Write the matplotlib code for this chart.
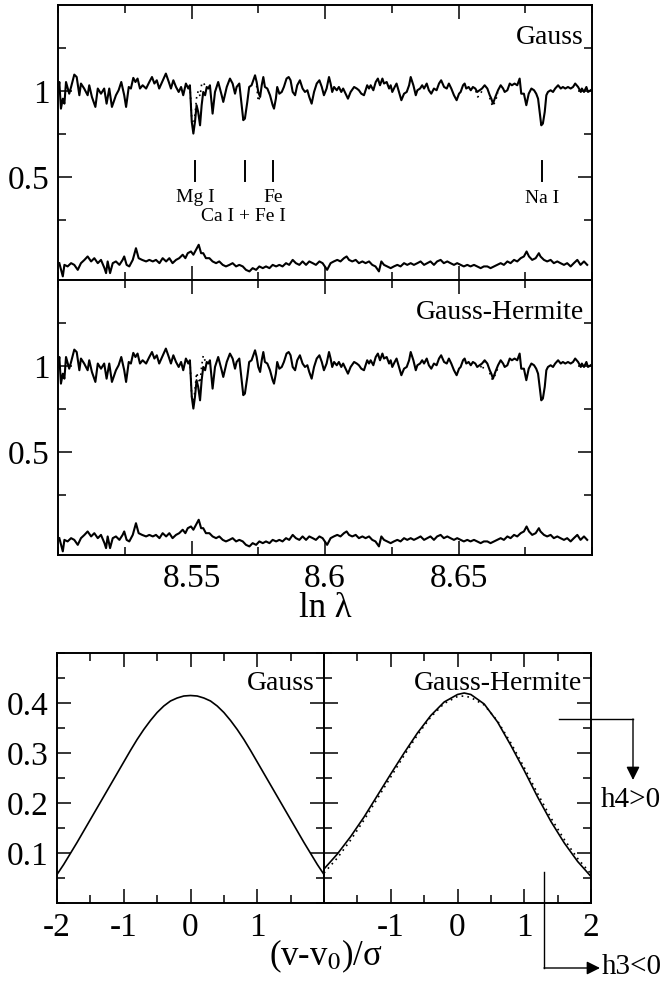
"""Spectrum fits (Gauss vs Gauss-Hermite LOSVD) and the recovered LOSVDs."""

import numpy as np
import matplotlib
matplotlib.use('Agg')
import matplotlib.pyplot as plt
from matplotlib.lines import Line2D
from matplotlib.ticker import MultipleLocator, FixedLocator

plt.rcParams['font.family'] = ['Liberation Serif', 'DejaVu Serif']
plt.rcParams['mathtext.fontset'] = 'stix'

W, H = 662, 986

# ===== Observed spectrum (ln lambda, normalised flux) =====
SPEC_LNL = [
    8.5000, 8.5005, 8.5011, 8.5018, 8.5024, 8.5030, 8.5042, 8.5049, 8.5061, 8.5070,
    8.5080, 8.5086, 8.5098, 8.5111, 8.5117, 8.5127, 8.5140, 8.5149, 8.5161, 8.5173,
    8.5182, 8.5192, 8.5202, 8.5217, 8.5227, 8.5237, 8.5248, 8.5255, 8.5265, 8.5273,
    8.5282, 8.5290, 8.5298, 8.5307, 8.5317, 8.5330, 8.5342, 8.5352, 8.5361, 8.5370,
    8.5379, 8.5390, 8.5404, 8.5415, 8.5423, 8.5432, 8.5442, 8.5452, 8.5461, 8.5469,
    8.5479, 8.5488, 8.5494, 8.5501, 8.5507, 8.5513, 8.5519, 8.5525, 8.5532, 8.5538,
    8.5544, 8.5551, 8.5557, 8.5563, 8.5569, 8.5579, 8.5588, 8.5600, 8.5613, 8.5619,
    8.5632, 8.5644, 8.5654, 8.5663, 8.5669, 8.5679, 8.5688, 8.5694, 8.5700, 8.5709,
    8.5716, 8.5725, 8.5738, 8.5744, 8.5750, 8.5757, 8.5763, 8.5769, 8.5775, 8.5784,
    8.5794, 8.5804, 8.5809, 8.5816, 8.5821, 8.5829, 8.5838, 8.5846, 8.5856, 8.5864,
    8.5871, 8.5879, 8.5888, 8.5896, 8.5906, 8.5916, 8.5925, 8.5934, 8.5941, 8.5950,
    8.5959, 8.5969, 8.5979, 8.5988, 8.5996, 8.6006, 8.6015, 8.6021, 8.6027, 8.6034,
    8.6044, 8.6052, 8.6061, 8.6068, 8.6077, 8.6086, 8.6096, 8.6109, 8.6119, 8.6127,
    8.6136, 8.6146, 8.6158, 8.6165, 8.6171, 8.6181, 8.6190, 8.6198, 8.6206, 8.6215,
    8.6221, 8.6231, 8.6240, 8.6246, 8.6252, 8.6261, 8.6268, 8.6277, 8.6286, 8.6296,
    8.6306, 8.6315, 8.6321, 8.6331, 8.6340, 8.6346, 8.6356, 8.6364, 8.6371, 8.6381,
    8.6389, 8.6398, 8.6408, 8.6418, 8.6427, 8.6435, 8.6446, 8.6456, 8.6464, 8.6473,
    8.6483, 8.6493, 8.6502, 8.6508, 8.6517, 8.6523, 8.6529, 8.6538, 8.6546, 8.6554,
    8.6563, 8.6570, 8.6579, 8.6588, 8.6598, 8.6608, 8.6617, 8.6623, 8.6629, 8.6638,
    8.6648, 8.6658, 8.6667, 8.6673, 8.6683, 8.6692, 8.6700, 8.6710, 8.6720, 8.6729,
    8.6735, 8.6745, 8.6754, 8.6763, 8.6773, 8.6783, 8.6791, 8.6798, 8.6804, 8.6810,
    8.6816, 8.6823, 8.6829, 8.6835, 8.6845, 8.6854, 8.6862, 8.6873, 8.6883, 8.6891,
    8.6900, 8.6910, 8.6920, 8.6929, 8.6937, 8.6948, 8.6958, 8.6962, 8.6970, 8.6979,
    8.6985, 8.6995,
]
SPEC_FLUX = [
    0.994, 1.052, 0.897, 0.955, 0.926, 1.052, 0.984, 1.023, 1.095, 1.081,
    0.975, 1.043, 1.014, 0.975, 1.033, 0.965, 0.907, 1.014, 0.984, 1.014,
    0.926, 1.014, 0.907, 0.975, 1.004, 1.052, 0.975, 0.907, 1.023, 1.014,
    1.076, 1.052, 1.072, 1.014, 1.033, 1.014, 1.052, 1.081, 1.043, 1.062,
    1.014, 1.052, 1.101, 1.052, 1.014, 1.062, 1.023, 0.994, 1.023, 0.975,
    1.043, 1.014, 1.033, 0.820, 0.752, 0.820, 0.917, 0.878, 0.800, 0.917,
    0.994, 0.975, 1.023, 1.014, 1.033, 0.868, 0.994, 1.052, 0.975, 0.936,
    1.023, 1.072, 1.043, 0.984, 1.023, 1.043, 0.917, 0.830, 0.839, 0.936,
    1.023, 1.033, 1.091, 1.052, 0.994, 0.965, 1.033, 1.081, 1.023, 1.014,
    0.975, 0.917, 0.897, 0.955, 1.023, 0.984, 0.994, 1.023, 1.072, 1.081,
    1.062, 0.994, 0.975, 1.033, 1.062, 1.014, 0.994, 1.004, 0.965, 0.926,
    0.994, 1.043, 1.062, 1.023, 0.975, 1.014, 1.081, 1.043, 0.994, 1.023,
    1.004, 1.023, 0.994, 1.014, 0.984, 0.955, 0.994, 1.023, 1.014, 1.004,
    0.984, 0.975, 1.033, 1.014, 1.033, 1.004, 1.052, 1.072, 1.033, 1.072,
    1.043, 1.052, 1.014, 1.033, 0.994, 1.023, 1.043, 0.994, 0.946, 0.984,
    0.994, 1.033, 1.081, 1.033, 0.975, 1.004, 1.014, 1.033, 1.014, 1.043,
    1.004, 0.984, 1.014, 1.004, 1.043, 1.062, 1.023, 1.014, 1.043, 1.014,
    0.975, 0.946, 0.984, 0.994, 1.033, 1.043, 1.014, 1.023, 1.004, 1.023,
    1.014, 0.994, 1.004, 1.014, 1.033, 1.014, 0.975, 0.955, 0.926, 0.965,
    1.004, 1.033, 1.014, 0.994, 1.004, 1.043, 1.033, 1.043, 1.033, 1.072,
    0.984, 0.984, 0.917, 0.984, 1.014, 1.004, 0.984, 0.955, 0.878, 0.800,
    0.810, 0.878, 0.975, 0.994, 1.004, 0.994, 1.014, 1.033, 1.014, 1.023,
    1.014, 1.023, 1.014, 1.023, 1.043, 1.023, 0.994, 1.014, 0.994, 1.023,
    0.994, 1.004,
]

# ===== Residuals (observed - model) =====
RES_LNL = [
    8.5005, 8.5018, 8.5024, 8.5036, 8.5049, 8.5061, 8.5074, 8.5086, 8.5099, 8.5111,
    8.5124, 8.5136, 8.5149, 8.5161, 8.5174, 8.5180, 8.5186, 8.5195, 8.5205, 8.5217,
    8.5230, 8.5242, 8.5248, 8.5257, 8.5267, 8.5280, 8.5292, 8.5302, 8.5315, 8.5330,
    8.5342, 8.5355, 8.5367, 8.5380, 8.5392, 8.5405, 8.5417, 8.5429, 8.5442, 8.5454,
    8.5467, 8.5477, 8.5486, 8.5498, 8.5507, 8.5517, 8.5527, 8.5536, 8.5544, 8.5554,
    8.5567, 8.5579, 8.5592, 8.5604, 8.5617, 8.5629, 8.5642, 8.5654, 8.5667, 8.5679,
    8.5692, 8.5704, 8.5717, 8.5729, 8.5742, 8.5754, 8.5767, 8.5779, 8.5792, 8.5804,
    8.5817, 8.5829, 8.5841, 8.5854, 8.5866, 8.5879, 8.5891, 8.5904, 8.5916, 8.5929,
    8.5941, 8.5954, 8.5966, 8.5979, 8.5991, 8.6008, 8.6021, 8.6033, 8.6046, 8.6058,
    8.6071, 8.6081, 8.6090, 8.6102, 8.6115, 8.6127, 8.6140, 8.6152, 8.6165, 8.6177,
    8.6189, 8.6202, 8.6211, 8.6221, 8.6233, 8.6246, 8.6258, 8.6271, 8.6283, 8.6296,
    8.6308, 8.6321, 8.6333, 8.6346, 8.6358, 8.6371, 8.6383, 8.6395, 8.6408, 8.6420,
    8.6433, 8.6445, 8.6458, 8.6470, 8.6483, 8.6495, 8.6508, 8.6520, 8.6533, 8.6545,
    8.6558, 8.6570, 8.6583, 8.6595, 8.6608, 8.6620, 8.6633, 8.6645, 8.6658, 8.6670,
    8.6683, 8.6695, 8.6708, 8.6720, 8.6733, 8.6745, 8.6755, 8.6764, 8.6776, 8.6789,
    8.6801, 8.6807, 8.6820, 8.6832, 8.6845, 8.6857, 8.6870, 8.6882, 8.6895, 8.6907,
    8.6920, 8.6932, 8.6945, 8.6957, 8.6970, 8.6982,
]
RES_VAL = [
    -0.002, -0.079, -0.012, -0.021, -0.002, -0.012, -0.041, -0.002, 0.017, 0.037,
    0.008, 0.027, -0.002, 0.017, -0.031, -0.060, 0.008, -0.060, -0.002, 0.008,
    -0.012, 0.017, 0.037, -0.012, -0.021, 0.017, 0.085, 0.027, 0.017, 0.008,
    0.017, 0.008, 0.017, -0.002, 0.027, 0.008, 0.027, -0.002, 0.017, 0.027,
    0.047, 0.027, 0.056, 0.066, 0.047, 0.076, 0.105, 0.056, 0.056, 0.027,
    0.027, 0.008, -0.002, 0.008, -0.012, -0.021, -0.012, -0.002, -0.021, -0.012,
    -0.021, -0.041, -0.050, -0.031, -0.041, -0.021, -0.031, -0.021, -0.031, -0.012,
    -0.021, -0.012, -0.021, -0.002, -0.012, 0.017, -0.002, -0.012, 0.008, -0.012,
    0.008, -0.002, -0.012, 0.008, -0.002, -0.041, -0.002, 0.008, 0.017, 0.008,
    0.027, 0.037, 0.017, 0.008, 0.017, -0.002, 0.008, -0.002, 0.008, -0.012,
    -0.021, -0.050, 0.008, -0.012, -0.021, -0.031, -0.021, -0.012, -0.021, -0.002,
    -0.012, -0.002, -0.012, -0.002, 0.008, -0.012, -0.002, 0.008, -0.012, 0.008,
    0.017, -0.002, 0.008, -0.002, -0.012, -0.002, -0.012, -0.021, -0.012, -0.021,
    -0.012, -0.021, -0.031, -0.021, -0.021, -0.031, -0.021, -0.012, -0.002, -0.012,
    0.008, -0.002, 0.017, 0.008, 0.027, 0.037, 0.066, 0.037, 0.017, 0.027,
    0.056, 0.037, 0.017, 0.008, 0.017, -0.002, 0.008, -0.002, -0.012, -0.002,
    -0.021, -0.002, 0.017, -0.012, 0.008, -0.012,
]

# ===== Model spectra where they visibly depart from the data (dotted) =====
GAUSS_MODEL_SEGS = [
    ([8.5494, 8.5501, 8.5507, 8.5513, 8.5519, 8.5525, 8.5532, 8.5538, 8.5544, 8.5551, 8.5557],
     [1.03, 0.84, 0.79, 0.86, 0.96, 1.00, 0.97, 1.04, 1.05, 1.03, 1.02]),
    ([8.5744, 8.5750, 8.5757], [1.03, 0.94, 0.97]),
    ([8.6565, 8.6572, 8.6579, 8.6588], [1.00, 0.965, 0.975, 1.00]),
    ([8.6617, 8.6623, 8.6628, 8.6638, 8.6648], [0.96, 0.93, 0.91, 0.94, 0.99]),
]
GH_MODEL_SEGS = [
    ([8.5494, 8.5501, 8.5507, 8.5513, 8.5519, 8.5525, 8.5532, 8.5538, 8.5544, 8.5551, 8.5557],
     [1.03, 0.82, 0.78, 0.86, 0.96, 0.93, 0.90, 1.00, 1.06, 1.03, 1.02]),
    ([8.6583, 8.6590, 8.6598], [1.00, 0.977, 1.02]),
    ([8.6617, 8.6623, 8.6628, 8.6638, 8.6648], [0.96, 0.93, 0.92, 0.95, 0.99]),
]

# ===== Line identifications =====
LINE_POS = [8.5513, 8.5700, 8.5806, 8.6813]
LINE_LABELS = [('Mg I', 8.5513, 0.378), ('Fe', 8.5806, 0.378),
               ('Ca I + Fe I', 8.5695, 0.270), ('Na I', 8.6815, 0.372)]

# ===== LOSVDs =====
LOSVD_V = [-2.0, -1.9, -1.8, -1.7, -1.6, -1.5, -1.4, -1.3, -1.2, -1.1, -1.0,
           -0.9, -0.8, -0.7, -0.6, -0.5, -0.4, -0.3, -0.2, -0.1, 0.0,
           0.1, 0.2, 0.3, 0.4, 0.5, 0.6, 0.7, 0.8, 0.9, 1.0,
           1.1, 1.2, 1.3, 1.4, 1.5, 1.6, 1.7, 1.8, 1.9, 2.0]
LOSVD_GAUSS = [0.057, 0.077, 0.099, 0.121, 0.144, 0.167, 0.190, 0.213, 0.236, 0.259, 0.282,
               0.305, 0.327, 0.347, 0.365, 0.381, 0.394, 0.404, 0.410, 0.414, 0.415,
               0.414, 0.410, 0.404, 0.394, 0.381, 0.365, 0.347, 0.327, 0.305, 0.282,
               0.259, 0.236, 0.213, 0.190, 0.167, 0.144, 0.121, 0.099, 0.077, 0.057]
GH_V = [-2.0, -1.8, -1.6, -1.4, -1.2, -1.0, -0.8, -0.6, -0.4, -0.2, 0.0,
        0.1, 0.2, 0.4, 0.6, 0.8, 1.0, 1.2, 1.4, 1.6, 1.8, 2.0]
LOSVD_GH = [0.068, 0.098, 0.133, 0.172, 0.215, 0.258, 0.300, 0.340, 0.375, 0.402, 0.417,
            0.420, 0.417, 0.398, 0.362, 0.315, 0.265, 0.212, 0.163, 0.120, 0.083, 0.053]
LOSVD_GH_REF = [0.060, 0.090, 0.126, 0.166, 0.209, 0.252, 0.295, 0.336, 0.372, 0.399, 0.413,
                0.414, 0.411, 0.396, 0.364, 0.320, 0.271, 0.219, 0.170, 0.127, 0.089, 0.058]


def px_box(x0, y0, x1, y1):
    """Axes rectangle from picture pixel corners (top-left / bottom-right)."""
    return [x0 / W, 1 - y1 / H, (x1 - x0) / W, (y1 - y0) / H]


def fx(p):
    return p / W


def fy(p):
    return 1 - p / H


def style_axes(ax, pad):
    for s in ax.spines.values():
        s.set_linewidth(1.4)
    ax.tick_params(which='both', direction='in', top=True, right=True, width=1.1,
                   labelsize=24, pad=pad)
    ax.tick_params(which='major', length=10)
    ax.tick_params(which='minor', length=6)


fig = plt.figure(figsize=(W / 100, H / 100), dpi=100)

ax_top = fig.add_axes(px_box(58, 5, 592, 280))
ax_mid = fig.add_axes(px_box(58, 280, 592, 555), sharex=ax_top)

spec_x = np.array(SPEC_LNL)
spec_y = np.array(SPEC_FLUX)
res_x = np.array(RES_LNL)
res_y = np.array(RES_VAL)

for ax, segs, title in [(ax_top, GAUSS_MODEL_SEGS, 'Gauss'),
                        (ax_mid, GH_MODEL_SEGS, 'Gauss-Hermite')]:
    for sx, sy in segs:
        ax.plot(sx, sy, color='k', lw=1.2, ls=(0, (1, 2.5)))
    ax.plot(spec_x, spec_y, color='k', lw=1.5)
    ax.plot(res_x, res_y, color='k', lw=1.5)
    ax.set_xlim(8.50, 8.70)
    ax.set_ylim(-0.1, 1.5)
    ax.yaxis.set_major_locator(FixedLocator([0.5, 1.0]))
    ax.yaxis.set_minor_locator(FixedLocator([0.25, 0.75, 1.25]))
    ax.set_yticklabels(['0.5', '1'])
    ax.xaxis.set_major_locator(MultipleLocator(0.05))
    ax.xaxis.set_minor_locator(MultipleLocator(0.025))
    style_axes(ax, pad=6)
    ax.text(8.697, 1.31, title, ha='right', va='center', fontsize=20)

ax_top.tick_params(labelbottom=False)
ax_mid.set_xticks([8.55, 8.60, 8.65])
ax_mid.set_xticklabels(['8.55', '8.6', '8.65'])
ax_mid.set_xlabel('ln λ', fontsize=25, labelpad=-1)

# line markers
for lp in LINE_POS:
    ax_top.plot([lp, lp], [0.475, 0.595], color='k', lw=1.4)
for lab, lx, ly in LINE_LABELS:
    ax_top.text(lx, ly, lab, ha='center', va='center', fontsize=14)

# ===== LOSVD panels =====
ax_g = fig.add_axes(px_box(57, 653, 324, 903))
ax_h = fig.add_axes(px_box(324, 653, 591, 903))

ax_g.plot(LOSVD_V, LOSVD_GAUSS, color='k', lw=1.2)
ax_h.plot(GH_V, LOSVD_GH_REF, color='k', lw=1.2, ls=(0, (1, 2.5)))
ax_h.plot(GH_V, LOSVD_GH, color='k', lw=1.2)

for ax, ticks, name in [(ax_g, [-2, -1, 0, 1], 'Gauss'),
                        (ax_h, [-1, 0, 1, 2], 'Gauss-Hermite')]:
    ax.set_xlim(-2, 2)
    ax.set_ylim(0, 0.5)
    ax.xaxis.set_major_locator(FixedLocator(ticks))
    ax.xaxis.set_minor_locator(MultipleLocator(0.5))
    ax.set_xticklabels([str(t) for t in ticks])
    ax.yaxis.set_major_locator(FixedLocator([0.1, 0.2, 0.3, 0.4]))
    ax.yaxis.set_minor_locator(MultipleLocator(0.05))
    style_axes(ax, pad=7)
    ax.tick_params(axis='y', pad=6)
    ax.text(1.86, 0.44, name, ha='right', va='center', fontsize=20)

ax_g.set_yticklabels(['0.1', '0.2', '0.3', '0.4'])
ax_h.tick_params(labelleft=False)
ax_h.xaxis.set_minor_locator(FixedLocator([-2, -1.5, -0.5, 0.5, 1.5]))

fig.text(fx(326), fy(956), '(v-v$_0$)/σ', ha='center', va='center', fontsize=25)

# ===== h4 / h3 arrows =====
fig.add_artist(Line2D([fx(559), fx(633)], [fy(719), fy(719)], color='k', lw=1.0,
                      transform=fig.transFigure))
fig.add_artist(Line2D([fx(544), fx(544)], [fy(872), fy(968)], color='k', lw=1.0,
                      transform=fig.transFigure))
arrow = dict(arrowstyle='-|>', color='k', lw=1.0, mutation_scale=20, shrinkA=0, shrinkB=0)
ax_h.annotate('', xy=(fx(633), fy(780)), xytext=(fx(633), fy(719)),
              xycoords='figure fraction', textcoords='figure fraction', arrowprops=arrow,
              annotation_clip=False)
ax_h.annotate('', xy=(fx(600), fy(968)), xytext=(fx(544), fy(968)),
              xycoords='figure fraction', textcoords='figure fraction', arrowprops=arrow,
              annotation_clip=False)
fig.text(fx(601), fy(800), 'h4>0', ha='left', va='center', fontsize=21)
fig.text(fx(602), fy(967), 'h3<0', ha='left', va='center', fontsize=21)

fig.savefig('out.png', dpi=100)
plt.close(fig)
